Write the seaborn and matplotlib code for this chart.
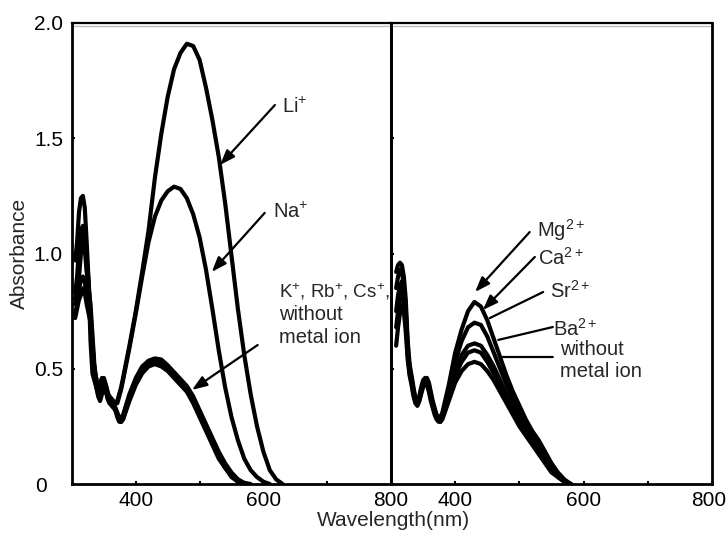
import numpy as np
import pandas as pd
import matplotlib
matplotlib.use("Agg")
import matplotlib.pyplot as plt
import seaborn as sns
from matplotlib.transforms import ScaledTranslation

sns.set_style("white")
plt.rcParams["font.family"] = ["Liberation Sans", "DejaVu Sans"]
plt.rcParams["mathtext.fontset"] = "custom"
plt.rcParams["mathtext.rm"] = "Liberation Sans"
plt.rcParams["mathtext.it"] = "Liberation Sans:italic"
plt.rcParams["mathtext.bf"] = "Liberation Sans:bold"

nan = np.nan

# ---------------- data: left panel (alkali metal ions) ----------------
wl_left = [305, 308, 311, 314, 317, 320, 323, 326, 329, 332, 335, 338, 341, 344, 347,
           350, 353, 356, 359, 362, 365, 368, 371, 374, 377, 380,
           390, 400, 410, 420, 430, 440, 450, 460, 470, 480, 490, 500, 510, 520, 530,
           540, 550, 560, 570, 580, 590, 600, 610, 620, 630]

abs_li = [0.97, 1.05, 1.18, 1.24, 1.25, 1.20, 1.05, 0.88, 0.62, 0.48, 0.45, 0.42, 0.40, 0.44, 0.46,
          0.45, 0.41, 0.38, 0.37, 0.36, 0.36, 0.35, 0.36, 0.39, 0.42, 0.46,
          0.60, 0.75, 0.92, 1.10, 1.33, 1.52, 1.68, 1.80, 1.87, 1.91, 1.90, 1.84, 1.72, 1.58, 1.42,
          1.22, 0.99, 0.76, 0.56, 0.39, 0.25, 0.14, 0.06, 0.02, 0.00]
abs_na = [0.83, 0.90, 1.02, 1.10, 1.12, 1.08, 0.95, 0.80, 0.70, 0.58, 0.50, 0.44, 0.40, 0.42, 0.45,
          0.46, 0.43, 0.39, 0.38, 0.37, 0.36, 0.35, 0.35, 0.38, 0.41, 0.45,
          0.59, 0.74, 0.90, 1.05, 1.16, 1.23, 1.27, 1.29, 1.28, 1.24, 1.17, 1.07, 0.93, 0.76, 0.58,
          0.42, 0.29, 0.19, 0.11, 0.06, 0.03, 0.01, 0.00, nan, nan]
abs_k = [0.78, 0.80, 0.90, 1.00, 1.05, 1.02, 0.92, 0.85, 0.78, 0.65, 0.52, 0.45, 0.40, 0.38, 0.42,
         0.44, 0.42, 0.38, 0.36, 0.35, 0.34, 0.33, 0.30, 0.28, 0.27, 0.29,
         0.38, 0.45, 0.50, 0.53, 0.54, 0.53, 0.51, 0.48, 0.45, 0.42, 0.37, 0.31, 0.25, 0.19, 0.13,
         0.08, 0.04, 0.02, 0.00, nan, nan, nan, nan, nan, nan]
abs_rb = [0.74, 0.78, 0.85, 0.88, 0.90, 0.88, 0.82, 0.78, 0.72, 0.62, 0.50, 0.43, 0.39, 0.37, 0.40,
          0.43, 0.41, 0.37, 0.35, 0.35, 0.34, 0.32, 0.30, 0.28, 0.27, 0.28,
          0.37, 0.44, 0.49, 0.52, 0.53, 0.52, 0.50, 0.47, 0.44, 0.41, 0.36, 0.30, 0.24, 0.18, 0.12,
          0.07, 0.04, 0.01, 0.00, nan, nan, nan, nan, nan, nan]
abs_cs = [0.72, 0.76, 0.80, 0.82, 0.85, 0.83, 0.78, 0.74, 0.70, 0.60, 0.48, 0.42, 0.38, 0.36, 0.39,
          0.42, 0.40, 0.37, 0.35, 0.34, 0.33, 0.32, 0.29, 0.27, 0.27, 0.28,
          0.36, 0.43, 0.48, 0.51, 0.52, 0.51, 0.49, 0.46, 0.43, 0.40, 0.35, 0.29, 0.23, 0.17, 0.11,
          0.07, 0.03, 0.01, 0.00, nan, nan, nan, nan, nan, nan]
abs_free_l = [0.80, 0.84, 0.95, 1.06, 1.10, 1.07, 0.98, 0.88, 0.75, 0.60, 0.50, 0.46, 0.42, 0.40, 0.43,
              0.45, 0.43, 0.40, 0.37, 0.36, 0.35, 0.33, 0.31, 0.29, 0.28, 0.30,
              0.39, 0.46, 0.51, 0.535, 0.545, 0.54, 0.515, 0.485, 0.455, 0.425, 0.38, 0.32, 0.26, 0.20, 0.14,
              0.09, 0.05, 0.02, 0.005, 0.00, nan, nan, nan, nan, nan]

# ---------------- data: right panel (alkaline earth metal ions) ----------------
wl_right = [308, 311, 314, 317, 320, 323, 326, 329, 332, 335, 338, 341, 344, 347, 350,
            353, 356, 359, 362, 365, 368, 371, 374, 377, 380,
            390, 400, 410, 420, 430, 440, 450, 460, 470, 480, 490, 500, 510, 520, 530,
            540, 550, 560, 570, 580]

abs_mg = [0.92, 0.95, 0.96, 0.95, 0.90, 0.80, 0.62, 0.52, 0.47, 0.42, 0.37, 0.36, 0.38, 0.42, 0.45,
          0.46, 0.46, 0.44, 0.40, 0.36, 0.33, 0.30, 0.29, 0.29, 0.31,
          0.43, 0.57, 0.67, 0.75, 0.79, 0.77, 0.71, 0.63, 0.55, 0.47, 0.40, 0.34, 0.28, 0.23, 0.19,
          0.14, 0.09, 0.05, 0.02, 0.00]
abs_ca = [0.85, 0.90, 0.93, 0.92, 0.86, 0.76, 0.60, 0.50, 0.46, 0.41, 0.37, 0.35, 0.37, 0.41, 0.44,
          0.45, 0.45, 0.43, 0.39, 0.35, 0.32, 0.30, 0.28, 0.28, 0.30,
          0.41, 0.53, 0.62, 0.68, 0.70, 0.69, 0.64, 0.57, 0.50, 0.43, 0.37, 0.31, 0.26, 0.21, 0.17,
          0.12, 0.08, 0.04, 0.01, 0.00]
abs_sr = [0.75, 0.82, 0.86, 0.88, 0.84, 0.74, 0.58, 0.49, 0.45, 0.40, 0.36, 0.35, 0.37, 0.40, 0.43,
          0.45, 0.44, 0.42, 0.38, 0.35, 0.32, 0.29, 0.28, 0.28, 0.29,
          0.39, 0.49, 0.56, 0.60, 0.61, 0.60, 0.56, 0.51, 0.45, 0.39, 0.34, 0.29, 0.24, 0.19, 0.15,
          0.11, 0.07, 0.04, 0.01, 0.00]
abs_ba = [0.68, 0.75, 0.80, 0.84, 0.80, 0.70, 0.56, 0.48, 0.44, 0.39, 0.36, 0.34, 0.36, 0.40, 0.43,
          0.44, 0.44, 0.41, 0.37, 0.34, 0.31, 0.29, 0.28, 0.27, 0.29,
          0.38, 0.47, 0.53, 0.57, 0.58, 0.57, 0.53, 0.48, 0.43, 0.37, 0.32, 0.27, 0.22, 0.18, 0.14,
          0.10, 0.06, 0.03, 0.01, 0.00]
abs_free_r = [0.60, 0.68, 0.74, 0.78, 0.75, 0.66, 0.54, 0.47, 0.43, 0.38, 0.35, 0.34, 0.36, 0.39, 0.42,
              0.44, 0.43, 0.40, 0.36, 0.33, 0.30, 0.28, 0.27, 0.27, 0.28,
              0.36, 0.44, 0.49, 0.52, 0.53, 0.52, 0.49, 0.45, 0.40, 0.35, 0.30, 0.25, 0.21, 0.17, 0.13,
              0.09, 0.05, 0.03, 0.01, 0.00]

x_ticks = [400, 500, 600, 700, 800]
x_ticklabels = ["400", "", "600", "", "800"]
y_ticks = [0, 0.5, 1.0, 1.5, 2.0]
y_ticklabels = ["0", "0.5", "1.0", "1.5", "2.0"]


def long_form(wl, series):
    frames = []
    for name, vals in series.items():
        d = pd.DataFrame({"nm": wl, "A": vals, "series": name})
        frames.append(d.dropna())
    return pd.concat(frames, ignore_index=True)


df_left = long_form(wl_left, {"Li": abs_li, "Na": abs_na, "K": abs_k, "Rb": abs_rb,
                              "Cs": abs_cs, "none": abs_free_l})
df_right = long_form(wl_right, {"Mg": abs_mg, "Ca": abs_ca, "Sr": abs_sr, "Ba": abs_ba,
                                "none": abs_free_r})

W, H = 727, 533
fig = plt.figure(figsize=(W / 100, H / 100), dpi=100)
ax1 = fig.add_axes([72 / W, 49 / H, 319 / W, 461 / H])
ax2 = fig.add_axes([391 / W, 49 / H, 321 / W, 461 / H])
ax2.patch.set_visible(False)

FS = 15
FA = 14.5
for ax, df in ((ax1, df_left), (ax2, df_right)):
    n = df["series"].nunique()
    sns.lineplot(data=df, x="nm", y="A", hue="series", palette=["black"] * n,
                 estimator=None, legend=False, linewidth=3.0, ax=ax, sort=False)
    ax.set_xlim(300, 800)
    ax.set_ylim(0, 2.0)
    ax.set_xlabel("")
    ax.set_ylabel("")
    ax.axhline(1.988, color="#bdbdbd", lw=1.0, zorder=1)
    for s in ax.spines.values():
        s.set_visible(True)
        s.set_color("black")
        s.set_linewidth(2.0)
    ax.spines["top"].set_linewidth(1.6)
    ax.set_xticks(x_ticks)
    ax.set_xticklabels(x_ticklabels)
    ax.set_yticks(y_ticks)
    ax.tick_params(axis="both", direction="in", length=2, width=1.5, colors="black",
                   labelsize=FS, bottom=True, left=True)
    ax.tick_params(axis="x", pad=5)

ax1.set_yticklabels(y_ticklabels)
ax1.tick_params(axis="y", pad=6.5)
ax2.set_yticklabels([""] * len(y_ticks))
ax2.tick_params(axis="y", left=True)

# the "0" label sits further left in the reference
lab0 = ax1.get_yticklabels()[0]
lab0.set_horizontalalignment("center")
lab0.set_transform(lab0.get_transform() + ScaledTranslation(-0.22, 0, fig.dpi_scale_trans))
# last "800" label is pulled in slightly so it stays inside the figure
lab800 = ax2.get_xticklabels()[-1]
lab800.set_transform(lab800.get_transform() + ScaledTranslation(-0.035, 0, fig.dpi_scale_trans))

fig.text(19 / W, 1 - 253 / H, "Absorbance", rotation=90, ha="center", va="center", fontsize=FS)
fig.text(393 / W, 1 - 521 / H, "Wavelength(nm)", ha="center", va="center", fontsize=FS)

head = dict(arrowstyle="-|>,head_length=0.6,head_width=0.22", color="black", lw=1.6,
            mutation_scale=15, shrinkA=0, shrinkB=0)
plain = dict(arrowstyle="-", color="black", lw=1.6, shrinkA=0, shrinkB=0)

# left panel labels
ax1.text(629, 1.61, r"Li$^{+}$", fontsize=FA, va="baseline", ha="left")
ax1.annotate("", xy=(532, 1.384), xytext=(618, 1.644), arrowprops=head)
ax1.text(615, 1.154, r"Na$^{+}$", fontsize=FA, va="baseline", ha="left")
ax1.annotate("", xy=(519, 0.92), xytext=(602, 1.176), arrowprops=head)
ax1.text(624, 0.807, r"K$^{+}$, Rb$^{+}$, Cs$^{+}$,", fontsize=13.5, va="baseline", ha="left",
         zorder=5, clip_on=False)
ax1.text(624, 0.711, "without", fontsize=FA, va="baseline", ha="left")
ax1.text(624, 0.612, "metal ion", fontsize=FA, va="baseline", ha="left")
ax1.annotate("", xy=(488, 0.408), xytext=(591, 0.603), arrowprops=head)

# right panel labels
ax2.text(527, 1.072, r"Mg$^{2+}$", fontsize=FA, va="baseline", ha="left")
ax2.annotate("", xy=(431, 0.833), xytext=(516, 1.093), arrowprops=head)
ax2.text(529, 0.95, r"Ca$^{2+}$", fontsize=FA, va="baseline", ha="left")
ax2.annotate("", xy=(443, 0.755), xytext=(524, 0.985), arrowprops=head)
ax2.text(548, 0.807, r"Sr$^{2+}$", fontsize=FA, va="baseline", ha="left")
ax2.annotate("", xy=(454, 0.72), xytext=(537, 0.833), arrowprops=plain)
ax2.text(552, 0.642, r"Ba$^{2+}$", fontsize=FA, va="baseline", ha="left")
ax2.annotate("", xy=(467, 0.625), xytext=(552, 0.681), arrowprops=plain)
ax2.text(563, 0.56, "without", fontsize=FA, va="baseline", ha="left")
ax2.text(563, 0.464, "metal ion", fontsize=FA, va="baseline", ha="left")
ax2.annotate("", xy=(474, 0.551), xytext=(552, 0.551), arrowprops=plain)

fig.savefig("out.png", dpi=100, facecolor="white")
